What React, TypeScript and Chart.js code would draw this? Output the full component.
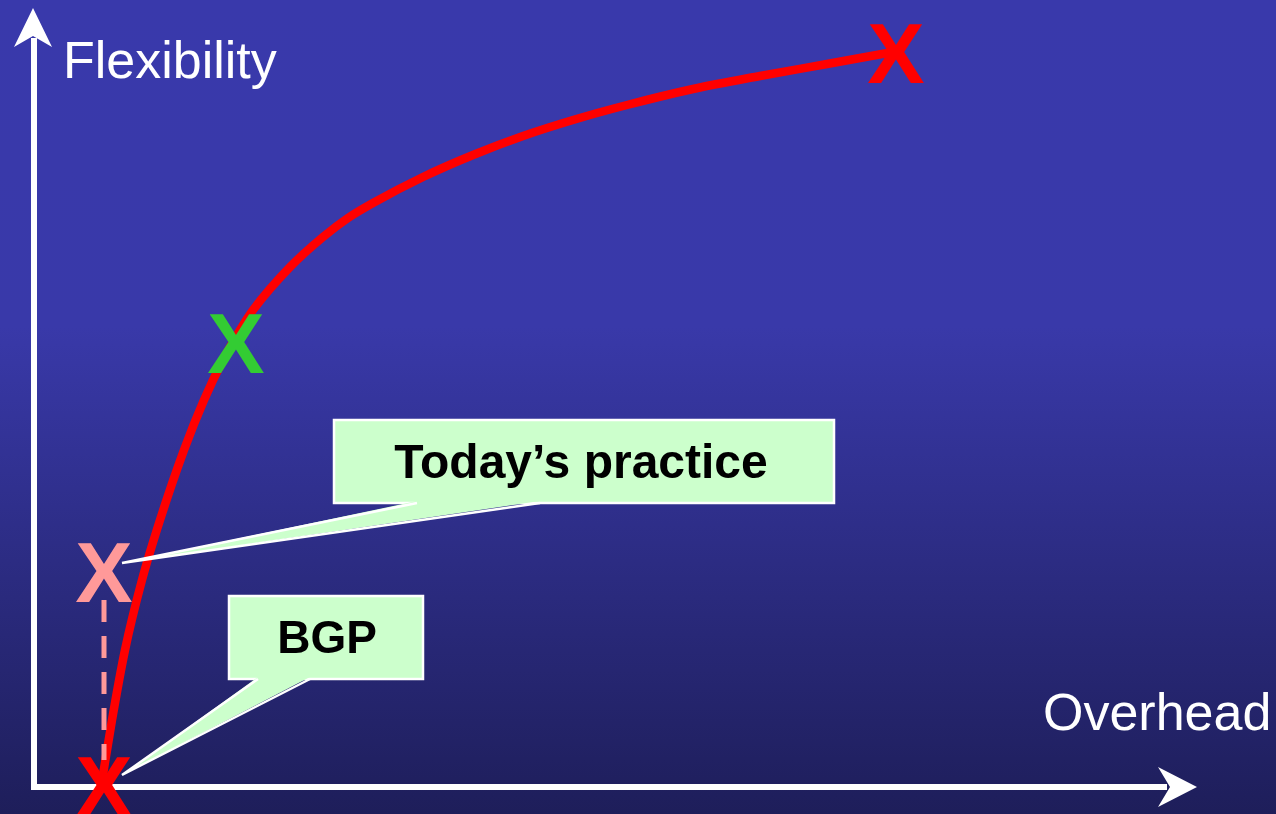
import React, { useEffect, useRef } from 'react';
import { Chart, registerables } from 'chart.js';

Chart.register(...registerables);

// ---- Data (overhead on x, flexibility on y) ----
const curveOverhead = [6.6, 7.7, 9.0, 10.7, 12.5, 14.9, 16.9, 18.8, 20.5, 21.8, 25.5, 28.8, 31.3, 33.8, 38.8, 43.8, 48.8, 53.8, 59.2, 65.8, 72.5, 79.2, 85.8];
const curveFlexibility = [0, 6.7, 13.7, 20.7, 26.7, 33.7, 38.7, 42.7, 45.7, 47.7, 52.0, 55.0, 56.9, 58.4, 61.0, 63.2, 65.1, 66.7, 68.2, 69.8, 71.1, 72.3, 73.5];

const markerOverhead = [6.9, 6.9, 20.1, 86.1];
const markerFlexibility = [0.2, 21.6, 44.5, 73.5];
const markerColors = ['#ff0000', '#ff9999', '#33cc33', '#ff0000'];

const dashOverhead = [6.9, 6.9];
const dashFlexibility = [18.7, 2.7];

const axisTitles = ['Flexibility', 'Overhead'];
const calloutTexts = ['Today\u2019s practice', 'BGP'];

// ---- Layout config (data units) ----
const X_MIN = -3.5, X_MAX = 124.1, Y_MIN = -2.7, Y_MAX = 78.7;
const axisEnd = { x: 116.2, y: 77.9 };
const titlePos = [
  { x: 2.8, y: 70.9, align: 'left' },
  { x: 100.8, y: 5.7, align: 'left' },
];
const callouts = [
  { x0: 29.9, x1: 79.9, y0: 36.7, y1: 28.4, tailA: 38.2, tailB: 50.5, tipX: 8.7, tipY: 22.4, tx: 54.6, ty: 30.9, size: 48 },
  { x0: 19.4, x1: 38.8, y0: 19.1, y1: 10.8, tailA: 22.3, tailB: 27.5, tipX: 8.7, tipY: 1.2, tx: 29.2, ty: 13.4, size: 46 },
];

const FONT = '"Liberation Sans", Arial, Helvetica, sans-serif';

const slidePlugin = {
  id: 'slide',
  beforeDraw(chart: any) {
    const { ctx, width, height } = chart;
    ctx.save();
    const g = ctx.createLinearGradient(0, 0, 0, height);
    g.addColorStop(0, '#3939ab');
    g.addColorStop(0.4, '#3939a9');
    g.addColorStop(1, '#1e1e5a');
    ctx.fillStyle = g;
    ctx.fillRect(0, 0, width, height);
    ctx.restore();
  },
  beforeDatasetsDraw(chart: any) {
    const { ctx } = chart;
    const sx = chart.scales.x, sy = chart.scales.y;
    const ox = sx.getPixelForValue(0), oy = sy.getPixelForValue(0);
    const ex = sx.getPixelForValue(axisEnd.x), ey = sy.getPixelForValue(axisEnd.y);
    ctx.save();
    ctx.strokeStyle = '#ffffff';
    ctx.fillStyle = '#ffffff';
    ctx.lineWidth = 6;
    ctx.beginPath();
    ctx.moveTo(ox - 3, oy);
    ctx.lineTo(ex - 30, oy);
    ctx.moveTo(ox - 1, oy + 3);
    ctx.lineTo(ox - 1, ey + 30);
    ctx.stroke();
    // x arrow head
    ctx.beginPath();
    ctx.moveTo(ex, oy);
    ctx.lineTo(ex - 39, oy - 20);
    ctx.lineTo(ex - 27, oy);
    ctx.lineTo(ex - 39, oy + 20);
    ctx.closePath();
    ctx.fill();
    // y arrow head
    const ax = ox - 2;
    ctx.beginPath();
    ctx.moveTo(ax, ey);
    ctx.lineTo(ax + 19, ey + 39);
    ctx.lineTo(ax, ey + 28);
    ctx.lineTo(ax - 19, ey + 39);
    ctx.closePath();
    ctx.fill();
    ctx.restore();
  },
  afterDatasetsDraw(chart: any) {
    const { ctx } = chart;
    const sx = chart.scales.x, sy = chart.scales.y;
    const P = (x: number, y: number) => [sx.getPixelForValue(x), sy.getPixelForValue(y)];

    // markers
    const meta = chart.getDatasetMeta(2);
    ctx.save();
    const fs = 86;
    ctx.font = `bold ${fs}px ${FONT}`;
    ctx.textAlign = 'center';
    ctx.textBaseline = 'alphabetic';
    meta.data.forEach((el: any, i: number) => {
      ctx.save();
      ctx.translate(el.x, el.y + fs * 0.716 / 2);
      ctx.fillStyle = markerColors[i];
      ctx.fillText('X', 0, 0);
      ctx.restore();
    });
    ctx.restore();

    // callouts
    callouts.forEach((c, i) => {
      const [x0, y0] = P(c.x0, c.y0);
      const [x1, y1] = P(c.x1, c.y1);
      const [ta] = P(c.tailA, 0);
      const [tb] = P(c.tailB, 0);
      const [tx, ty] = P(c.tipX, c.tipY);
      ctx.save();
      ctx.fillStyle = '#ccffcc';
      ctx.fillRect(x0, y0, x1 - x0, y1 - y0);
      ctx.strokeStyle = '#ffffff';
      ctx.lineWidth = 2.5;
      ctx.strokeRect(x0, y0, x1 - x0, y1 - y0);
      ctx.beginPath();
      ctx.moveTo(ta, y1 - 2);
      ctx.lineTo(tx, ty);
      ctx.lineTo(tb, y1 - 2);
      ctx.closePath();
      ctx.fill();
      ctx.beginPath();
      ctx.moveTo(ta, y1);
      ctx.lineTo(tx, ty);
      ctx.lineTo(tb, y1);
      ctx.lineJoin = 'miter';
      ctx.stroke();
      const [cx, cy] = P(c.tx, c.ty);
      ctx.fillStyle = '#000000';
      ctx.font = `bold ${c.size}px ${FONT}`;
      ctx.textAlign = 'center';
      ctx.textBaseline = 'alphabetic';
      ctx.fillText(calloutTexts[i], cx, cy);
      ctx.restore();
    });

    // axis titles
    ctx.save();
    ctx.fillStyle = '#ffffff';
    ctx.font = `52px ${FONT}`;
    ctx.textBaseline = 'alphabetic';
    axisTitles.forEach((t, i) => {
      const [x, y] = P(titlePos[i].x, titlePos[i].y);
      ctx.textAlign = titlePos[i].align;
      ctx.fillText(t, x, y);
    });
    ctx.restore();
  },
};

export default function App() {
  const ref = useRef<HTMLCanvasElement | null>(null);
  useEffect(() => {
    if (!ref.current) return;
    const chart = new Chart(ref.current, {
      type: 'line',
      data: {
        datasets: [
          {
            data: dashOverhead.map((x, i) => ({ x, y: dashFlexibility[i] })),
            borderColor: '#ff9999',
            borderWidth: 5,
            borderDash: [22, 14],
            pointRadius: 0,
            fill: false,
          },
          {
            data: curveOverhead.map((x, i) => ({ x, y: curveFlexibility[i] })),
            borderColor: '#ff0000',
            borderWidth: 8.5,
            pointRadius: 0,
            cubicInterpolationMode: 'monotone',
            borderCapStyle: 'round',
            fill: false,
          },
          {
            data: markerOverhead.map((x, i) => ({ x, y: markerFlexibility[i] })),
            showLine: false,
            pointRadius: 0,
            borderColor: 'transparent',
          },
        ],
      },
      options: {
        animation: false,
        responsive: false,
        events: [],
        layout: { padding: 0 },
        clip: false as any,
        scales: {
          x: { type: 'linear', display: false, min: X_MIN, max: X_MAX },
          y: { type: 'linear', display: false, min: Y_MIN, max: Y_MAX },
        },
        plugins: { legend: { display: false }, tooltip: { enabled: false } },
      },
      plugins: [slidePlugin],
    } as any);
    return () => chart.destroy();
  }, []);
  return (
    <div style={{ position: 'fixed', left: 0, top: 0, width: 1276, height: 814 }}>
      <canvas ref={ref} width={1276} height={814} style={{ width: 1276, height: 814, display: 'block' }} />
    </div>
  );
}
